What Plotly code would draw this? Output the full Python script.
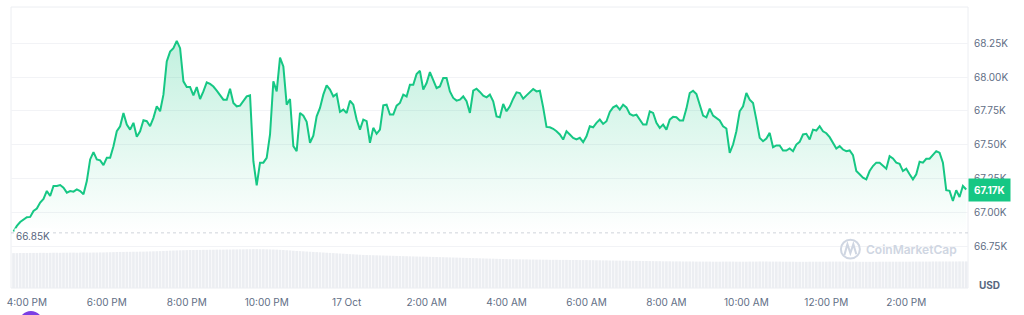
import plotly.graph_objects as go
import pandas as pd

# ---------------- data ----------------
START_TIME = "2024-10-16 15:40"
INTERVAL = "5min"
BASE_PRICE = 66850          # reference (24h-ago) price, dotted line
BASE_LABEL = "66.85K"
LAST_LABEL = "67.17K"
CURRENCY = "USD"
WATERMARK = "CoinMarketCap"

PRICE = [
    66860, 66901, 66930, 66951,
    66965, 66968, 67012, 67029, 67074, 67100, 67159, 67122, 67196, 67196, 67203, 67184,
    67147, 67159, 67154, 67171, 67159, 67135, 67232, 67392, 67446, 67392, 67385, 67350,
    67404, 67404, 67490, 67600, 67637, 67735, 67649, 67612, 67662, 67559, 67600, 67681,
    67674, 67637, 67699, 67784, 67747, 67870, 68115, 68188, 68213, 68267, 68213, 67968,
    67926, 67926, 67865, 67926, 67838, 67894, 67960, 67949, 67930, 67900, 67862, 67833,
    67833, 67914, 67809, 67784, 67789, 67821, 67857, 67865, 67379, 67201, 67368, 67368,
    67404, 67576, 67968, 67894, 68144, 68078, 67796, 67838, 67490, 67453, 67735, 67715,
    67669, 67515, 67568, 67710, 67772, 67870, 67938, 67907, 67857, 67875, 67743, 67760,
    67735, 67825, 67796, 67686, 67612, 67686, 67674, 67515, 67625, 67581, 67612, 67791,
    67796, 67723, 67723, 67789, 67809, 67870, 67857, 67943, 67943, 68022, 68046, 67907,
    67956, 68037, 67980, 67919, 67931, 67993, 67993, 67894, 67846, 67826, 67833, 67857,
    67821, 67735, 67899, 67914, 67890, 67862, 67850, 67870, 67821, 67710, 67703, 67801,
    67747, 67784, 67840, 67887, 67882, 67840, 67865, 67890, 67912, 67894, 67899, 67776,
    67632, 67629, 67618, 67600, 67576, 67539, 67600, 67576, 67551, 67539, 67551, 67519,
    67563, 67637, 67629, 67662, 67686, 67654, 67674, 67743, 67776, 67789, 67760, 67796,
    67776, 67728, 67715, 67723, 67686, 67649, 67649, 67747, 67735, 67662, 67625, 67649,
    67612, 67686, 67706, 67703, 67679, 67679, 67767, 67882, 67899, 67875, 67796, 67715,
    67703, 67767, 67715, 67699, 67679, 67637, 67620, 67441, 67502, 67600, 67747, 67784,
    67882, 67833, 67809, 67686, 67551, 67526, 67546, 67588, 67482, 67495, 67495, 67458,
    67458, 67473, 67453, 67502, 67522, 67576, 67581, 67539, 67612, 67605, 67637, 67600,
    67585, 67556, 67515, 67473, 67490, 67465, 67453, 67458, 67424, 67306, 67282, 67257,
    67245, 67306, 67343, 67368, 67368, 67343, 67324, 67416, 67399, 67368, 67360, 67306,
    67324, 67282, 67245, 67282, 67375, 67368, 67397, 67397, 67429, 67453, 67441, 67368,
    67165, 67160, 67085, 67164, 67115, 67196, 67170,
]

# 24h volume, billions USD
VOLUME_B = [
    35.0, 35.0, 35.1, 35.1,
    35.1, 35.2, 35.2, 35.2, 35.3, 35.3, 35.2, 35.3, 35.4, 35.4, 35.3, 35.4,
    35.4, 35.5, 35.5, 35.4, 35.5, 35.6, 35.6, 35.5, 35.6, 35.6, 35.7, 35.7,
    35.8, 35.9, 36.0, 36.1, 36.2, 36.2, 36.3, 36.3, 36.4, 36.4, 36.5, 36.5,
    36.6, 36.7, 36.8, 36.9, 37.0, 37.2, 37.3, 37.5, 37.6, 37.7, 37.8, 37.9,
    38.0, 38.1, 38.1, 38.2, 38.2, 38.3, 38.3, 38.4, 38.4, 38.5, 38.5, 38.5,
    38.6, 38.6, 38.7, 38.7, 38.8, 38.8, 38.9, 38.9, 39.0, 39.0, 38.9, 38.9,
    38.8, 38.7, 38.6, 38.5, 38.3, 38.1, 37.9, 37.7, 37.4, 37.2, 37.0, 36.8,
    36.6, 36.4, 36.2, 36.0, 35.8, 35.6, 35.4, 35.2, 35.0, 34.8, 34.6, 34.4,
    34.2, 34.0, 33.8, 33.6, 33.4, 33.2, 33.1, 33.0, 32.9, 32.8, 32.7, 32.6,
    32.5, 32.4, 32.3, 32.2, 32.1, 32.0, 31.9, 31.8, 31.7, 31.6, 31.5, 31.5,
    31.4, 31.3, 31.2, 31.1, 31.0, 30.9, 30.8, 30.7, 30.6, 30.5, 30.4, 30.3,
    30.2, 30.1, 30.0, 29.9, 29.8, 29.7, 29.6, 29.5, 29.4, 29.3, 29.2, 29.1,
    29.0, 28.9, 28.9, 28.8, 28.8, 28.7, 28.7, 28.6, 28.6, 28.5, 28.5, 28.4,
    28.4, 28.3, 28.3, 28.3, 28.2, 28.2, 28.2, 28.1, 28.1, 28.1, 28.0, 28.0,
    28.0, 27.9, 27.9, 27.8, 27.8, 27.7, 27.7, 27.6, 27.6, 27.5, 27.5, 27.4,
    27.4, 27.3, 27.3, 27.2, 27.2, 27.1, 27.1, 27.0, 27.0, 26.9, 26.9, 26.8,
    26.8, 26.8, 26.7, 26.7, 26.7, 26.6, 26.6, 26.6, 26.6, 26.5, 26.5, 26.5,
    26.5, 26.5, 26.4, 26.4, 26.4, 26.5, 26.5, 26.5, 26.5, 26.4, 26.4, 26.4,
    26.4, 26.5, 26.5, 26.5, 26.6, 26.6, 26.6, 26.5, 26.5, 26.5, 26.5, 26.4,
    26.4, 26.4, 26.4, 26.3, 26.3, 26.3, 26.3, 26.4, 26.4, 26.4, 26.4, 26.4,
    26.4, 26.5, 26.5, 26.5, 26.5, 26.5, 26.4, 26.4, 26.4, 26.4, 26.3, 26.3,
    26.3, 26.3, 26.3, 26.3, 26.4, 26.4, 26.4, 26.4, 26.4, 26.4, 26.4, 26.4,
    26.4, 26.4, 26.5, 26.5, 26.5, 26.5, 26.5, 26.5, 26.6, 26.6, 26.6, 26.6,
    26.6, 26.6, 26.6, 26.6, 26.7, 26.7, 26.7,
]

Y_TICKS = [66750, 67000, 67250, 67500, 67750, 68000, 68250]
Y_TICK_LABELS = ["66.75K", "67.00K", "67.25K", "67.50K", "67.75K", "68.00K", "68.25K"]

X_TICKS = ["2024-10-16 16:00", "2024-10-16 18:00", "2024-10-16 20:00", "2024-10-16 22:00",
           "2024-10-17 00:00", "2024-10-17 02:00", "2024-10-17 04:00", "2024-10-17 06:00",
           "2024-10-17 08:00", "2024-10-17 10:00", "2024-10-17 12:00", "2024-10-17 14:00"]
X_TICK_LABELS = ["4:00 PM", "6:00 PM", "8:00 PM", "10:00 PM", "17 Oct", "2:00 AM",
                 "4:00 AM", "6:00 AM", "8:00 AM", "10:00 AM", "12:00 PM", "2:00 PM"]

X_RANGE = ["2024-10-16 15:36:12", "2024-10-17 15:32:40"]
Y_RANGE = [66443, 68517]
VOL_RANGE = [0, 282]

# ---------------- styles ----------------
GREEN = "#16c784"
FONT = "Inter"
TICK_COLOR = "#616e85"
WM_COLOR = "#cfd6e2"

times = pd.date_range(START_TIME, periods=len(PRICE), freq=INTERVAL)
assert len(PRICE) == len(VOLUME_B)

fig = go.Figure()

fig.add_trace(go.Bar(
    x=times, y=VOLUME_B, yaxis="y2",
    marker=dict(color="#eceef2", line=dict(width=0)),
    hoverinfo="skip", showlegend=False,
))

fig.add_trace(go.Scatter(
    x=times, y=[BASE_PRICE] * len(PRICE), mode="lines",
    line=dict(width=0, color="rgba(0,0,0,0)"),
    hoverinfo="skip", showlegend=False,
))

fig.add_trace(go.Scatter(
    x=times, y=PRICE, mode="lines",
    line=dict(color=GREEN, width=2),
    fill="tonexty",
    fillgradient=dict(
        type="vertical",
        colorscale=[[0, "rgba(22,199,132,0)"], [1, "rgba(22,199,132,0.27)"]],
        start=BASE_PRICE, stop=68300,
    ),
    showlegend=False,
))

fig.update_layout(
    width=1024, height=315,
    margin=dict(l=8, r=56, t=7, b=26),
    paper_bgcolor="white", plot_bgcolor="white",
    bargap=0.2,
    font=dict(family=FONT, color=TICK_COLOR, size=10),
    xaxis=dict(
        range=X_RANGE, tickvals=X_TICKS, ticktext=X_TICK_LABELS,
        showgrid=False, zeroline=False, showline=False,
        ticks="outside", ticklen=5, tickcolor="rgba(0,0,0,0)",
        tickfont=dict(family=FONT, size=10, color=TICK_COLOR),
        fixedrange=True,
    ),
    yaxis=dict(
        side="right", range=Y_RANGE, tickvals=Y_TICKS, ticktext=Y_TICK_LABELS,
        showgrid=True, gridcolor="#f2f3f6", gridwidth=1,
        zeroline=False, showline=False,
        ticks="outside", ticklen=3, tickcolor="rgba(0,0,0,0)",
        tickfont=dict(family=FONT, size=10, color=TICK_COLOR),
        fixedrange=True,
    ),
    yaxis2=dict(overlaying="y", range=VOL_RANGE, visible=False, fixedrange=True),
    shapes=[
        dict(type="rect", xref="paper", yref="paper", x0=0, x1=1, y0=0, y1=1,
             line=dict(color="#eceef2", width=1), layer="below"),
        dict(type="line", xref="paper", yref="y", x0=0, x1=1, y0=BASE_PRICE, y1=BASE_PRICE,
             line=dict(color="#cfd3da", width=1, dash="dot"), layer="above"),
        # watermark logo
        dict(type="circle", xref="paper", yref="paper", x0=0.8672, x1=0.8870, y0=0.1046, y1=0.1720,
             line=dict(color=WM_COLOR, width=2), layer="above"),
        dict(type="path", xref="paper", yref="paper",
             path="M 0.8708 0.1170 L 0.8740 0.1560 L 0.8771 0.1240 L 0.8802 0.1560 L 0.8833 0.1200",
             line=dict(color=WM_COLOR, width=2), layer="above"),
        # purple badge partially visible at the bottom-left
        dict(type="circle", xref="paper", yref="paper", x0=0.0083, x1=0.0333, y0=-0.170, y1=-0.0816,
             fillcolor="#7b3fe4", line=dict(width=0), layer="above"),
    ],
    annotations=[
        dict(xref="paper", yref="y", x=0.0, y=BASE_PRICE, xanchor="left", yanchor="middle",
             xshift=3, yshift=-3, text=BASE_LABEL, showarrow=False, bgcolor="white",
             font=dict(family=FONT, size=10, color="#58667e"), borderpad=1),
        dict(xref="paper", yref="y", x=1, y=PRICE[-1], xanchor="left", yanchor="middle",
             text="<b>" + LAST_LABEL + "</b>", showarrow=False, bgcolor=GREEN,
             font=dict(family=FONT, size=10, color="white"), borderpad=5),
        dict(xref="paper", yref="paper", x=1.022, y=0.0106, xanchor="center", yanchor="middle",
             text="<b>" + CURRENCY + "</b>", showarrow=False,
             font=dict(family=FONT, size=10, color="#58667e")),
        dict(xref="paper", yref="paper", x=0.9406, y=0.1383, xanchor="center", yanchor="middle",
             text=WATERMARK, showarrow=False,
             font=dict(family=FONT, size=12, color=WM_COLOR, weight=600)),
    ],
)

fig.write_html("out.html")
